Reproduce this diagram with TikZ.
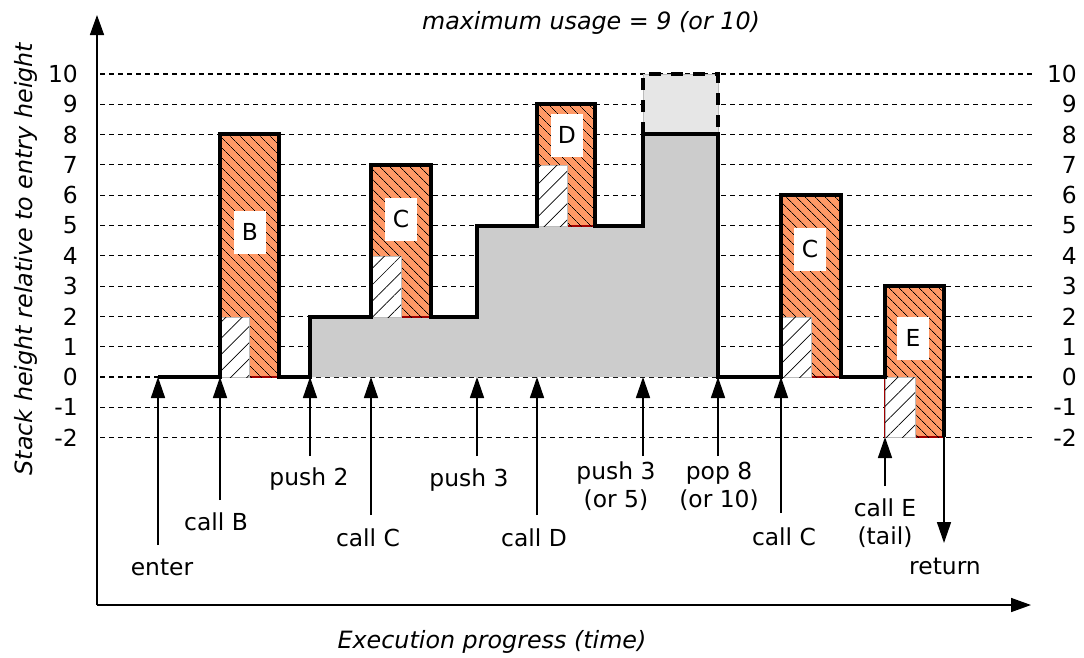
\documentclass[tikz,border=0pt]{standalone}
\usepackage{fontspec}
\setmainfont{DejaVu Sans}
\usetikzlibrary{arrows.meta,patterns.meta}
\definecolor{orfill}{HTML}{FF9966}
\definecolor{redline}{HTML}{A00000}
\definecolor{gfill}{HTML}{CCCCCC}
\definecolor{lgfill}{HTML}{E6E6E6}
\definecolor{wboxc}{HTML}{BBBBBB}
\begin{document}
\begin{tikzpicture}[x=1pt,y=-1pt,
  every node/.style={font=\fontsize{23.4}{28}\selectfont, inner sep=0pt},
  itfont/.style={font=\fontsize{23.8}{28}\selectfont\itshape},
  gridline/.style={line width=1.1pt, dash pattern=on 5pt off 4pt},
  prof/.style={line width=4pt, line join=miter, line cap=butt},
  dashbox/.style={line width=4pt, dash pattern=on 12pt off 10pt},
  thinarrow/.style={line width=1.6pt, -{Triangle[length=21pt,width=14pt]}},
  axisarrow/.style={line width=1.6pt, -{Triangle[length=20pt,width=14pt]}},
  orbar/.style={fill=orfill, draw=redline, line width=1.2pt,
    postaction={pattern={Lines[angle=-45,distance=7.4pt,line width=0.7pt]}, pattern color=black}},
  whbox/.style={fill=white, draw=wboxc, line width=1pt,
    postaction={pattern={Lines[angle=45,distance=11.5pt,line width=0.7pt]}, pattern color=black}},
  lbox/.style={fill=white, minimum width=32pt, minimum height=43pt},
  lab/.style={anchor=base},
  lab2/.style={anchor=north, align=center},
  numl/.style={anchor=east}
]
\useasboundingbox (0,0) rectangle (1084,657);

% grid lines and numbers
\foreach \v in {-2,...,10}{
  \pgfmathsetmacro\yy{377-30.3*\v}
  \draw[gridline] (100,\yy) -- (1033,\yy);
  \node[numl] (ll\v) at (78,\yy) {\v};
  \node[numl] (rl\v) at (1077,\yy) {\v};
}

% grey stack region
\fill[gfill] (310,377) -- (310,317) -- (477,317) -- (477,226) -- (643,226) -- (643,134) -- (718,134) -- (718,377) -- cycle;
% light grey optional region
\filldraw[fill=lgfill, draw=wboxc, line width=1pt] (643,74) rectangle (718,134);

% call frames
\path[orbar] (220,134) rectangle (279,377);
\path[whbox] (220,317) rectangle (249,377);
\path[orbar] (371,165) rectangle (431,317);
\path[whbox] (371,256) rectangle (401,317);
\path[orbar] (537,104) rectangle (595,226);
\path[whbox] (537,165) rectangle (567,226);
\path[orbar] (781,195) rectangle (841,377);
\path[whbox] (781,317) rectangle (811,377);
\path[orbar] (885,286) rectangle (944,437);
\path[whbox] (885,377) rectangle (915,437);

% stack profile
\draw[prof] (158,377) -- (220,377) -- (220,134) -- (279,134) -- (279,377) -- (310,377)
  -- (310,317) -- (371,317) -- (371,165) -- (431,165) -- (431,317) -- (477,317)
  -- (477,226) -- (537,226) -- (537,104) -- (595,104) -- (595,226) -- (643,226)
  -- (643,134) -- (718,134) -- (718,377) -- (781,377) -- (781,195) -- (841,195)
  -- (841,377) -- (885,377) -- (885,286) -- (944,286) -- (944,437);
\draw[dashbox] (643,134) -- (643,74) -- (718,74) -- (718,134);

% frame labels
\node[lbox] (nB) at (250,232) {B};
\node[lbox] (nC1) at (401,219) {C};
\node[lbox] (nD) at (567,135) {D};
\node[lbox] (nC2) at (810,249) {C};
\node[lbox] (nE) at (913,338) {E};

% arrow coordinates
\coordinate (tEnter) at (158,377); \coordinate (sEnter) at (158,545);
\coordinate (tCallB) at (220,377); \coordinate (sCallB) at (220,500);
\coordinate (tPush2) at (310,377); \coordinate (sPush2) at (310,456);
\coordinate (tCallC1) at (371,377); \coordinate (sCallC1) at (371,515);
\coordinate (tPush3) at (477,377); \coordinate (sPush3) at (477,456);
\coordinate (tCallD) at (537,377); \coordinate (sCallD) at (537,515);
\coordinate (tPush35) at (643,377); \coordinate (sPush35) at (643,456);
\coordinate (tPop8) at (718,377); \coordinate (sPop8) at (718,456);
\coordinate (tCallC2) at (781,377); \coordinate (sCallC2) at (781,513);
\coordinate (tCallE) at (885,437); \coordinate (sCallE) at (885,486);
\coordinate (sRet) at (944,437); \coordinate (tRet) at (944,543);

\draw[thinarrow] (sEnter) -- (tEnter);
\draw[thinarrow] (sCallB) -- (tCallB);
\draw[thinarrow] (sPush2) -- (tPush2);
\draw[thinarrow] (sCallC1) -- (tCallC1);
\draw[thinarrow] (sPush3) -- (tPush3);
\draw[thinarrow] (sCallD) -- (tCallD);
\draw[thinarrow] (sPush35) -- (tPush35);
\draw[thinarrow] (sPop8) -- (tPop8);
\draw[thinarrow] (sCallC2) -- (tCallC2);
\draw[thinarrow] (sCallE) -- (tCallE);
\draw[thinarrow] (sRet) -- (tRet);

% event labels
\node[lab] (lEnter) at (162,575) {enter};
\node[lab] (lCallB) at (216,530) {call B};
\node[lab] (lPush2) at (309,485) {push 2};
\node[lab] (lCallC1) at (368,546) {call C};
\node[lab] (lPush3) at (469,486) {push 3};
\node[lab] (lCallD) at (534,546) {call D};
\node[lab2] (lPush35) at (616,461.5) {push 3\\(or 5)};
\node[lab2] (lPop8) at (719,462) {pop 8\\(or 10)};
\node[lab] (lCallC2) at (784,545) {call C};
\node[lab2] (lCallE) at (885,498.5) {call E\\(tail)};
\node[lab] (lRet) at (945,574) {return};

% axes
\coordinate (origin) at (97,605);
\coordinate (ytip) at (97,15);
\coordinate (xtip) at (1031,605);
\draw[axisarrow] (origin) -- (ytip);
\draw[axisarrow] (origin) -- (xtip);

\node[lab, itfont] (title) at (591,29) {maximum usage = 9 (or 10)};
\node[lab, itfont] (xlab) at (492,648) {Execution progress (time)};
\node[lab, rotate=90, itfont] (ylab) at (32,259) {Stack height relative to entry height};
\end{tikzpicture}
\end{document}
